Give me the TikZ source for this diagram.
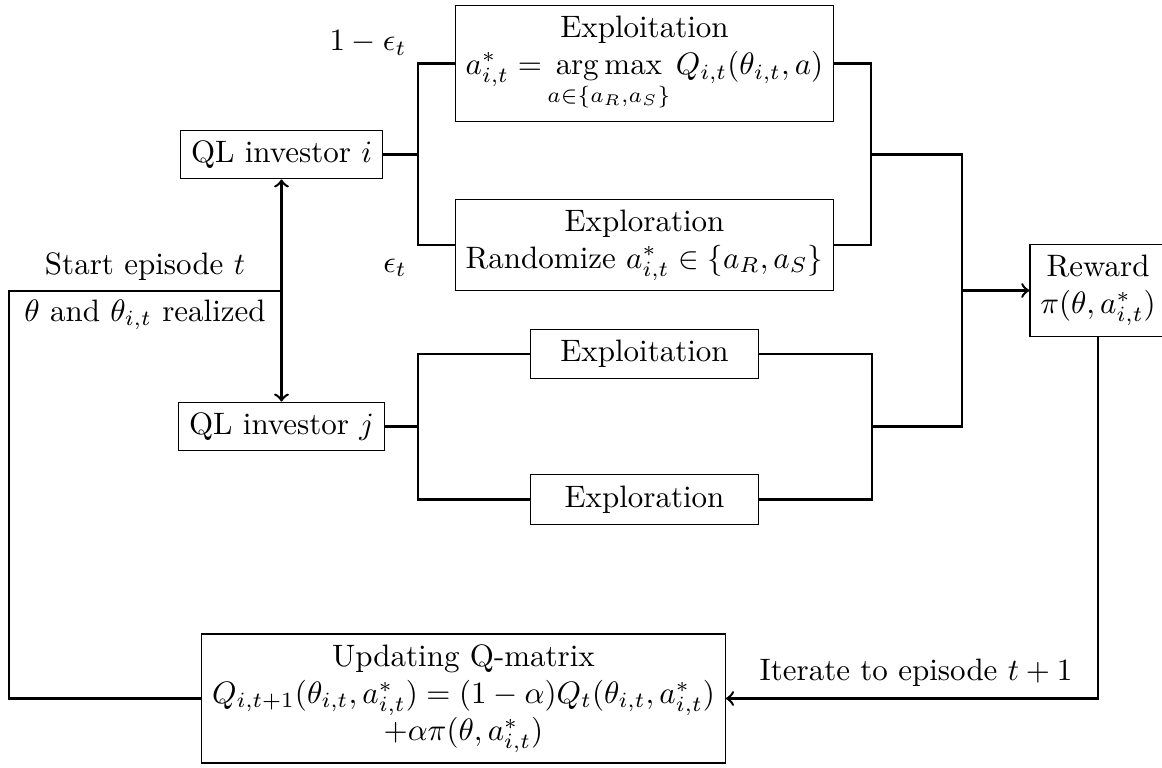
\documentclass[tikz,border=0pt]{standalone}
\usepackage{amsmath}
\begin{document}
\begin{tikzpicture}[x=0.3226pt,y=-0.3226pt,
  box/.style={draw, line width=0.4pt, align=center, inner sep=3.33pt},
  smallbox/.style={box, minimum width=73.5pt, minimum height=16pt},
  conn/.style={line width=0.8pt},
  lbl/.style={inner sep=1pt}]
\useasboundingbox (0,0) rectangle (1162,767);

\node[box] (qli) at (281.5,154.5) {QL investor $i$};
\node[box] (qlj) at (281.5,426.5) {QL investor $j$};
\node[box] (xi) at (644.5,63.5) {Exploitation\\ $\displaystyle a^*_{i,t} = \mkern3mu\mathop{\arg\max}\limits_{\makebox[0pt]{$\scriptstyle a\in\{a_R,a_S\}$}}\; Q_{i,t}(\theta_{i,t},a)$};
\node[box] (ri) at (644.5,245) {Exploration\\ Randomize $a^*_{i,t}\in\{a_R,a_S\}$};
\node[smallbox] (xj) at (644.5,354) {Exploitation};
\node[smallbox] (rj) at (644.5,499.5) {Exploration};
\node[box] (rew) at (1098,290.5) {Reward\\ $\pi(\theta,a^*_{i,t})$};
\node[box] (upd) at (463.5,698.5) {Updating Q-matrix\\ $Q_{i,t+1}(\theta_{i,t},a^*_{i,t}) = (1-\alpha)Q_t(\theta_{i,t},a^*_{i,t})$\\ $+\alpha\pi(\theta,a^*_{i,t})$};

\coordinate (bi) at (418,154.5);
\coordinate (mi) at (871,154.5);
\coordinate (bj) at (418,426.5);
\coordinate (mj) at (872,426.5);
\coordinate (c) at (962,290.5);
\coordinate (s) at (281.5,291);
\coordinate (ll) at (9,291);

\draw[conn] (qli.east) -- (bi);
\draw[conn] (xi.west) -| (bi) |- (ri.west);
\draw[conn] (xi.east) -| (mi) |- (ri.east);
\draw[conn] (mi) -- (mi -| c) -- (mj -| c) -- (mj);
\draw[conn] (qlj.east) -- (bj);
\draw[conn] (xj.west) -| (bj) |- (rj.west);
\draw[conn] (xj.east) -| (mj) |- (rj.east);
\draw[conn,->] (c) -- (rew.west);
\draw[conn,->] (s) -- (qli.south);
\draw[conn,->] (s) -- (qlj.north);
\draw[conn] (s) -- (ll) |- (upd.west);
\draw[conn,->] (rew.south) |- (upd.east);

\node[lbl] (l1) at (368,43) {$1-\epsilon_t$};
\node[lbl] (l2) at (395,268) {$\epsilon_t$};
\node[lbl] (l3) at (145,267) {Start episode $t$};
\node[lbl] (l4) at (145,315) {$\theta$ and $\theta_{i,t}$ realized};
\node[lbl] (l5) at (916,673) {Iterate to episode $t+1$};
\end{tikzpicture}
\end{document}
